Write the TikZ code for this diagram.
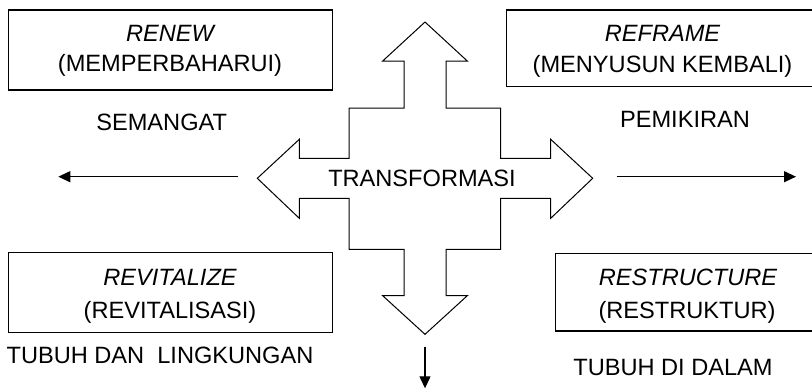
\documentclass[tikz,border=0pt]{standalone}
\usepackage{fontspec}
\setmainfont{Liberation Sans}
\usetikzlibrary{arrows.meta}

\begin{document}
\begin{tikzpicture}[x=1bp,y=-1bp,
  every node/.style={inner sep=0pt, outer sep=0pt},
  lbl/.style={font=\fontsize{23.6bp}{30bp}\selectfont, anchor=base},
  framebox/.style={draw, line width=1.4bp, rectangle},
  flow/.style={line width=1.3bp, -{Triangle[length=12bp,width=11bp]}},
  crossline/.style={line width=1bp, line join=miter}
]
\useasboundingbox (0,0) rectangle (812,389);
\clip (0,0) rectangle (812,389);

% four frames
\node[framebox, minimum width=323.6bp, minimum height=80bp]   (renewbox)   at (170.5,50)  {};
\node[framebox, minimum width=311.6bp, minimum height=76.7bp] (reframebox) at (662.5,48.3) {};
\node[framebox, minimum width=323.6bp, minimum height=80bp]   (revitbox)   at (170.5,292.7) {};
\node[framebox, minimum width=263.6bp, minimum height=77.7bp] (restrbox)   at (687.5,292.2) {};

% frame captions
\node[lbl] (renew)   at (170,41.8)  {\itshape RENEW};
\node[lbl] (renewid) at (170,71.8)  {(MEMPERBAHARUI)};
\node[lbl] (reframe)   at (662.5,41.8) {\itshape REFRAME};
\node[lbl] (reframeid) at (662.5,72.5) {(MENYUSUN KEMBALI)};
\node[lbl] (revit)   at (170,285.2) {\itshape REVITALIZE};
\node[lbl] (revitid) at (170,318.5) {(REVITALISASI)};
\node[lbl] (restr)   at (688,285.2) {\itshape RESTRUCTURE};
\node[lbl] (restrid) at (687,318.5) {(RESTRUKTUR)};

% side labels
\node[lbl] (semangat)  at (161.7,130) {SEMANGAT};
\node[lbl] (pemikiran) at (685,127.5) {PEMIKIRAN};
\node[lbl] (tubuhdan)  at (160,363.5) {TUBUH DAN\ \ LINGKUNGAN};
\node[lbl] (tubuhdi)   at (673,375) {TUBUH DI DALAM};

% four-way block arrow
\draw[crossline]
  (425,22) -- (467.3,61) -- (446,61) -- (446,108) -- (500.7,108) -- (500.7,158.3)
  -- (550.7,158.3) -- (550.7,139.3) -- (592.7,178.3) -- (550.7,218.3) -- (550.7,198.3)
  -- (500.7,198.3) -- (500.7,249.3) -- (446,249.3) -- (446,295.7) -- (467.3,295.7)
  -- (425,334.3) -- (382.7,295.7) -- (404,295.7) -- (404,249.3) -- (349,249.3)
  -- (349,198.3) -- (299.3,198.3) -- (299.3,218.3) -- (257.3,178.3) -- (299.3,139.3)
  -- (299.3,158.3) -- (349,158.3) -- (349,108) -- (404,108) -- (404,61)
  -- (382.7,61) -- cycle;
\node[lbl] (transf) at (422,186.8) {TRANSFORMASI};

% outgoing arrows
\coordinate (lstart) at (237.7,176.7);
\coordinate (lend)   at (58.3,176.7);
\coordinate (rstart) at (616.7,176.7);
\coordinate (rend)   at (796,176.7);
\coordinate (dstart) at (425,346.7);
\coordinate (dend)   at (425,388.3);
\draw[flow] (lstart) -- (lend);
\draw[flow] (rstart) -- (rend);
\draw[flow] (dstart) -- (dend);
\end{tikzpicture}
\end{document}
